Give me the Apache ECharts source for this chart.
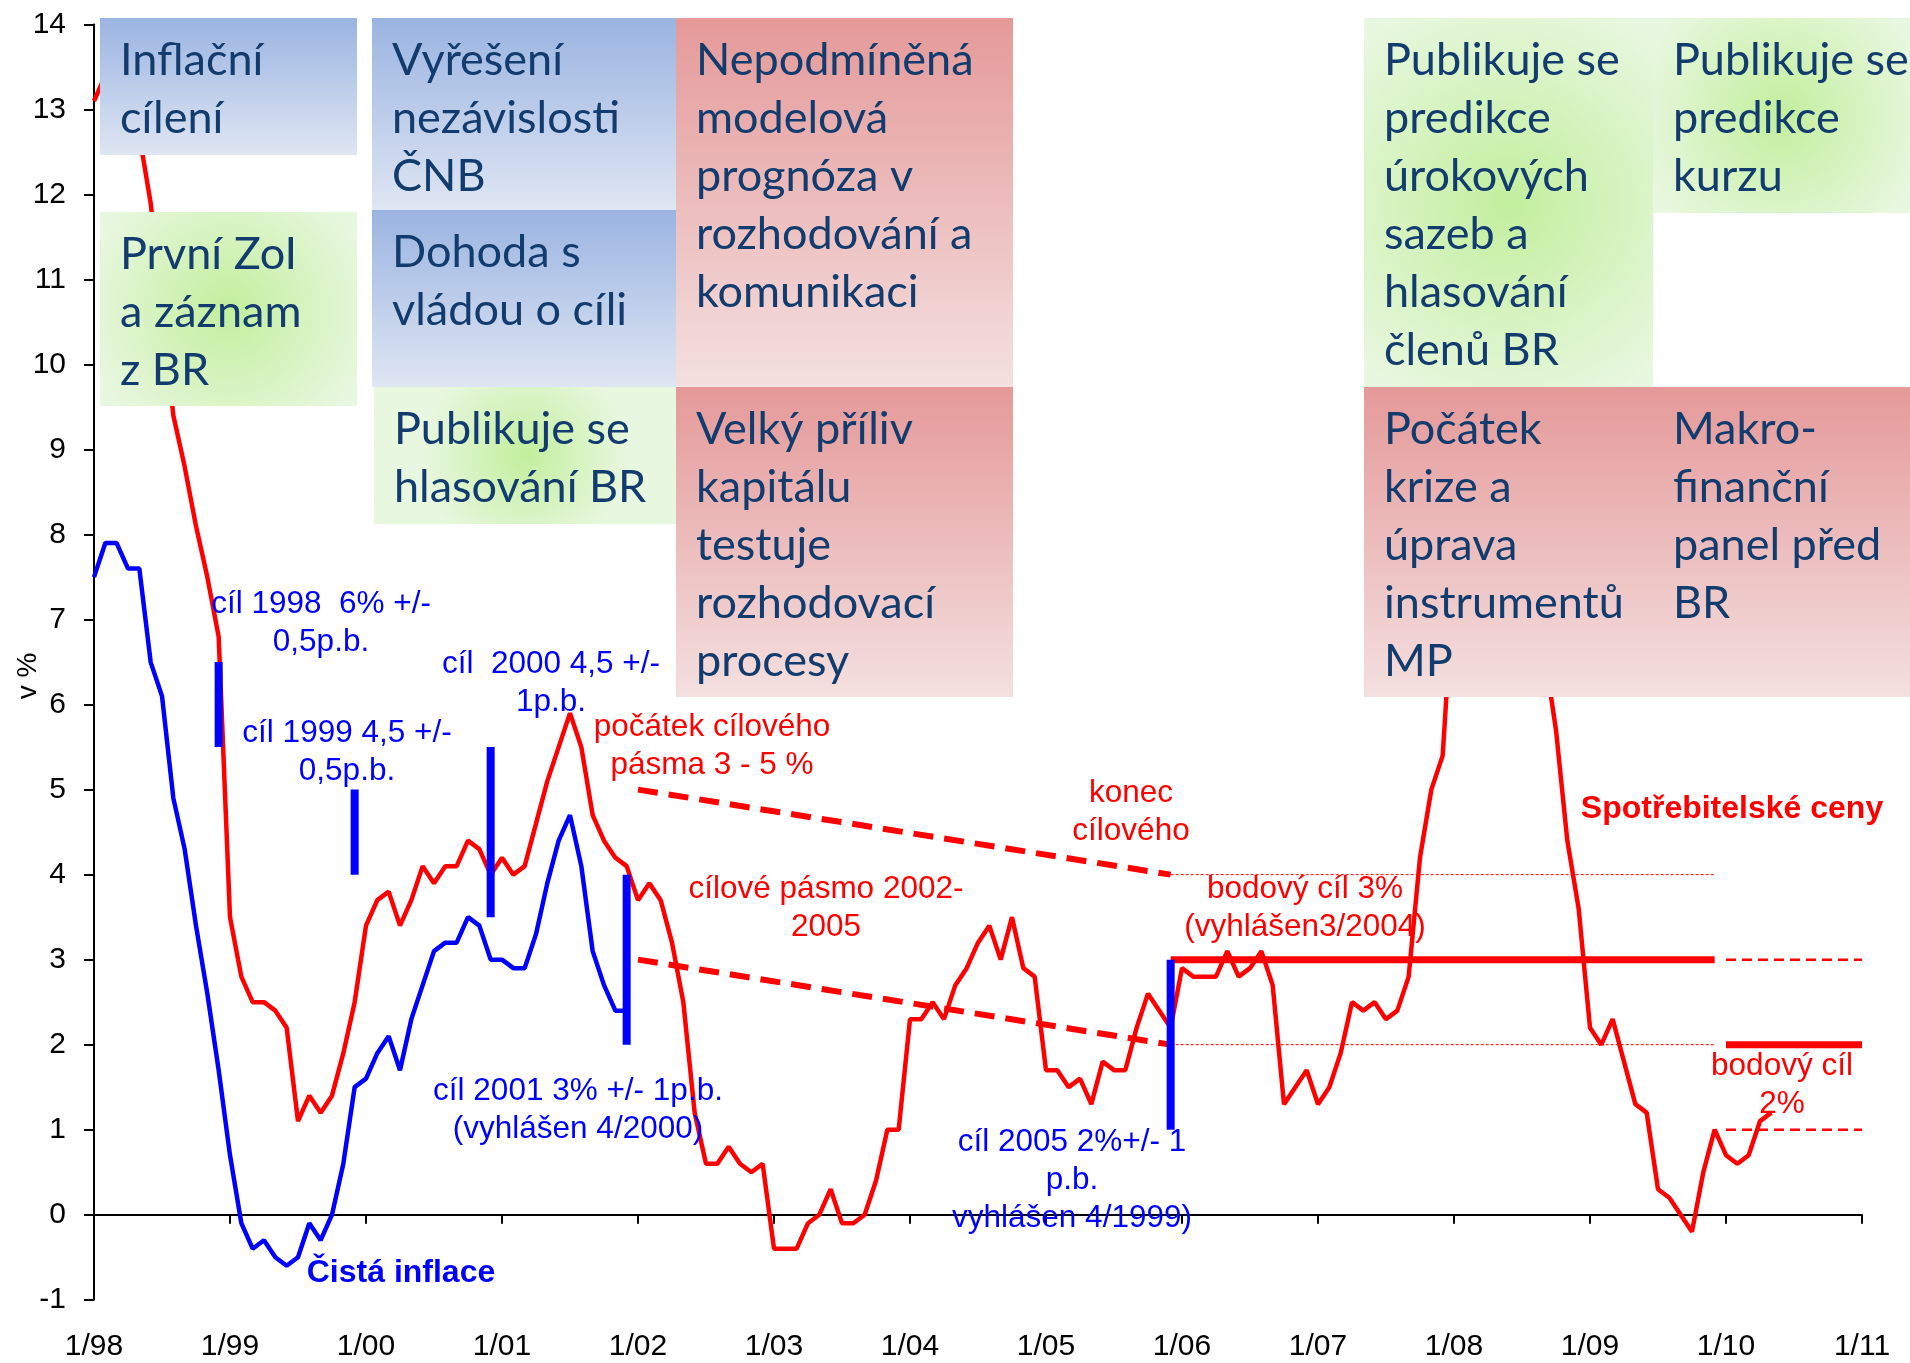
<!DOCTYPE html>
<html>
<head>
<meta charset="utf-8">
<title>Inflace a cíle ČNB</title>
<script src="https://cdn.jsdelivr.net/npm/echarts@6/dist/echarts.min.js"></script>
<style>
  html, body { margin: 0; padding: 0; background: #fff; }
  #chart { width: 1910px; height: 1363px; }
</style>
</head>
<body>
<div id="chart"></div>
<script>
// osa x: měsíce od 1/1998 (0 = leden 1998)
const xTickLabels = ['1/98', '1/99', '1/00', '1/01', '1/02', '1/03', '1/04', '1/05', '1/06', '1/07', '1/08', '1/09', '1/10', '1/11'];

// spotřebitelské ceny, meziročně v %
const cpi = [
  13.1, 13.4, 13.4, 13.1, 12.7, 11.9, 10.7, 9.4, 8.8, 8.1, 7.5, 6.8,
  3.5, 2.8, 2.5, 2.5, 2.4, 2.2, 1.1, 1.4, 1.2, 1.4, 1.9, 2.5,
  3.4, 3.7, 3.8, 3.4, 3.7, 4.1, 3.9, 4.1, 4.1, 4.4, 4.3, 4.0,
  4.2, 4.0, 4.1, 4.6, 5.1, 5.5, 5.9, 5.5, 4.7, 4.4, 4.2, 4.1,
  3.7, 3.9, 3.7, 3.2, 2.5, 1.2, 0.6, 0.6, 0.8, 0.6, 0.5, 0.6,
  -0.4, -0.4, -0.4, -0.1, 0.0, 0.3, -0.1, -0.1, 0.0, 0.4, 1.0, 1.0,
  2.3, 2.3, 2.5, 2.3, 2.7, 2.9, 3.2, 3.4, 3.0, 3.5, 2.9, 2.8,
  1.7, 1.7, 1.5, 1.6, 1.3, 1.8, 1.7, 1.7, 2.2, 2.6, 2.4, 2.2,
  2.9, 2.8, 2.8, 2.8, 3.1, 2.8, 2.9, 3.1, 2.7, 1.3, 1.5, 1.7,
  1.3, 1.5, 1.9, 2.5, 2.4, 2.5, 2.3, 2.4, 2.8, 4.2, 5.0, 5.4,
  7.5, 7.5, 7.1, 6.8, 6.8, 6.7, 6.8, 6.2, 6.6, 5.7, 4.4, 3.6,
  2.2, 2.0, 2.3, 1.8, 1.3, 1.2, 0.3, 0.2, 0.0, -0.2, 0.5, 1.0,
  0.7, 0.6, 0.7, 1.1, 1.2
];

// čistá inflace, meziročně v %
const netInflation = [
  7.5, 7.9, 7.9, 7.6, 7.6, 6.5, 6.1, 4.9, 4.3, 3.4, 2.6, 1.7,
  0.7, -0.1, -0.4, -0.3, -0.5, -0.6, -0.5, -0.1, -0.3, 0.0, 0.6, 1.5,
  1.6, 1.9, 2.1, 1.7, 2.3, 2.7, 3.1, 3.2, 3.2, 3.5, 3.4, 3.0,
  3.0, 2.9, 2.9, 3.3, 3.9, 4.4, 4.7, 4.1, 3.1, 2.7, 2.4, 2.4
];

// cíle: [měsíc, dolní mez, horní mez]
const targetBars = [[11, 5.5, 6.5], [23, 4, 5], [35, 3.5, 5.5], [47, 2, 4], [95, 1, 3]];

// cílové pásmo 2002-2005
const bandUpper = [[48, 5], [95, 4]];
const bandLower = [[48, 3], [95, 2]];

// bodové cíle a jejich tolerance
const pointTarget3 = [[95, 3], [143, 3]];
const tolerance3Upper = [[95, 4], [143, 4]];
const tolerance3Lower = [[95, 2], [143, 2]];
const pointTarget2 = [[144, 2], [156, 2]];
const tolerance2Upper = [[144, 3], [156, 3]];
const tolerance2Lower = [[144, 1], [156, 1]];

const RED = '#ff0000';
const BLUE = '#0000ff';
const BOX_TEXT = '#123c6e';
const ARIAL = '"Liberation Sans", Arial, sans-serif';
const BOX_FONT = 'Lato, "Noto Sans", sans-serif';

const blueFill = { type: 'linear', x: 0, y: 0, x2: 0, y2: 1,
  colorStops: [{ offset: 0, color: '#9ab4e1' }, { offset: 1, color: '#dfe6f3' }] };
const pinkFill = { type: 'linear', x: 0, y: 0, x2: 0, y2: 1,
  colorStops: [{ offset: 0, color: '#e59999' }, { offset: 1, color: '#f4e0e0' }] };
const greenFill = { type: 'radial', x: 0.5, y: 0.5, r: 0.75,
  colorStops: [{ offset: 0, color: '#c2ef9d' }, { offset: 1, color: '#e8f7df' }] };

// textové rámečky nad grafem
const boxes = [
  { x: 100, y: 18, w: 257, h: 137, fill: blueFill, text: 'Inflační\ncílení' },
  { x: 100, y: 212, w: 257, h: 194, fill: greenFill, text: 'První ZoI\na záznam\nz BR' },
  { x: 372, y: 18, w: 304, h: 192, fill: blueFill, text: 'Vyřešení\nnezávislosti\nČNB' },
  { x: 372, y: 210, w: 304, h: 177, fill: blueFill, text: 'Dohoda s\nvládou o cíli' },
  { x: 374, y: 387, w: 302, h: 137, fill: greenFill, text: 'Publikuje se\nhlasování BR' },
  { x: 676, y: 18, w: 337, h: 369, fill: pinkFill, text: 'Nepodmíněná\nmodelová\nprognóza v\nrozhodování a\nkomunikaci' },
  { x: 676, y: 387, w: 337, h: 310, fill: pinkFill, text: 'Velký příliv\nkapitálu\ntestuje\nrozhodovací\nprocesy' },
  { x: 1364, y: 18, w: 289, h: 369, fill: greenFill, text: 'Publikuje se\npredikce\núrokových\nsazeb a\nhlasování\nčlenů BR' },
  { x: 1653, y: 18, w: 257, h: 195, fill: greenFill, text: 'Publikuje se\npredikce\nkurzu' },
  { x: 1364, y: 387, w: 289, h: 310, fill: pinkFill, text: 'Počátek\nkrize a\núprava\ninstrumentů\nMP' },
  { x: 1653, y: 387, w: 257, h: 310, fill: pinkFill, text: 'Makro-\nfinanční\npanel před\nBR' }
];

// popisky v grafu (střed bloku)
const notes = [
  { x: 321, y: 623, color: BLUE, text: 'cíl 1998  6% +/-\n0,5p.b.' },
  { x: 347, y: 752, color: BLUE, text: 'cíl 1999 4,5 +/-\n0,5p.b.' },
  { x: 551, y: 683, color: BLUE, text: 'cíl  2000 4,5 +/-\n1p.b.' },
  { x: 712, y: 746, color: RED, text: 'počátek cílového\npásma 3 - 5 %' },
  { x: 1131, y: 812, color: RED, text: 'konec\ncílového' },
  { x: 826, y: 908, color: RED, text: 'cílové pásmo 2002-\n2005' },
  { x: 1305, y: 908, color: RED, text: 'bodový cíl 3%\n(vyhlášen3/2004)' },
  { x: 578, y: 1110, color: BLUE, text: 'cíl 2001 3% +/- 1p.b.\n(vyhlášen 4/2000)' },
  { x: 1072, y: 1180, color: BLUE, text: 'cíl 2005 2%+/- 1\np.b.\nvyhlášen 4/1999)' },
  { x: 1782, y: 1085, color: RED, text: 'bodový cíl\n2%' },
  { x: 1732, y: 809, color: RED, text: 'Spotřebitelské ceny', bold: true },
  { x: 401, y: 1273, color: BLUE, text: 'Čistá inflace', bold: true }
];

const graphics = [];
boxes.forEach(b => {
  graphics.push({
    type: 'rect', z: 20, silent: true,
    shape: { x: b.x, y: b.y, width: b.w, height: b.h },
    style: { fill: b.fill }
  });
  graphics.push({
    type: 'text', z: 21, silent: true, x: b.x + 20, y: b.y + 13,
    style: { text: b.text, fill: BOX_TEXT, fontSize: 45, fontFamily: BOX_FONT,
      lineHeight: 58, align: 'left', verticalAlign: 'top' }
  });
});
notes.forEach(n => {
  graphics.push({
    type: 'text', z: 22, silent: true, x: n.x, y: n.y,
    style: { text: n.text, fill: n.color, fontSize: n.bold ? 32 : 31.5, fontFamily: ARIAL,
      fontWeight: n.bold ? 'bold' : 'normal', lineHeight: 38,
      align: 'center', verticalAlign: 'middle' }
  });
});
graphics.push({
  type: 'text', z: 22, silent: true, x: 28, y: 676, rotation: Math.PI / 2,
  style: { text: 'v %', fill: '#000', fontSize: 28, fontFamily: ARIAL,
    align: 'center', verticalAlign: 'middle' }
});

function plainLine(data, color, width, type) {
  return {
    type: 'line', data: data, xAxisIndex: 0, showSymbol: false, symbol: 'none',
    silent: true, animation: false, z: 3,
    lineStyle: { color: color, width: width, type: type || 'solid', cap: 'butt' }
  };
}

const chart = echarts.init(document.getElementById('chart'));
chart.setOption({
  backgroundColor: '#fff',
  animation: false,
  grid: { left: 94, right: 48, top: 24.5, bottom: 63.3 },
  xAxis: [
    {
      type: 'value', min: 0, max: 156, interval: 12,
      axisLine: { onZero: true, lineStyle: { color: '#000', width: 2 } },
      axisTick: { show: true, length: 9, lineStyle: { color: '#000', width: 2 } },
      axisLabel: { show: false },
      splitLine: { show: false }
    },
    {
      type: 'value', min: 0, max: 156, interval: 12, position: 'bottom',
      axisLine: { show: false, onZero: false },
      axisTick: { show: false },
      axisLabel: {
        margin: 32, fontSize: 30, color: '#000', fontFamily: ARIAL,
        formatter: v => xTickLabels[Math.round(v / 12)]
      },
      splitLine: { show: false }
    }
  ],
  yAxis: {
    type: 'value', min: -1, max: 14, interval: 1,
    axisLine: { show: true, onZero: false, lineStyle: { color: '#000', width: 2 } },
    axisTick: { show: true, length: 10, lineStyle: { color: '#000', width: 2 } },
    axisLabel: { fontSize: 30, color: '#000', fontFamily: ARIAL, margin: 28 },
    splitLine: { show: false }
  },
  graphic: graphics,
  series: [
    plainLine(tolerance3Upper, RED, 1, [3, 2]),
    plainLine(tolerance3Lower, RED, 1, [3, 2]),
    plainLine(tolerance2Upper, RED, 2.5, [10, 6]),
    plainLine(tolerance2Lower, RED, 2.5, [10, 6]),
    plainLine(bandUpper, RED, 6, [20, 11]),
    plainLine(bandLower, RED, 6, [20, 11]),
    plainLine(pointTarget3, RED, 7),
    plainLine(pointTarget2, RED, 7),
    Object.assign(plainLine(cpi.map((v, i) => [i, v]), RED, 4.5), { z: 5 }),
    Object.assign(plainLine(netInflation.map((v, i) => [i, v]), BLUE, 4.5), { z: 5 }),
    {
      type: 'custom', data: targetBars, silent: true, z: 6,
      renderItem: (params, api) => {
        const lo = api.coord([api.value(0), api.value(1)]);
        const hi = api.coord([api.value(0), api.value(2)]);
        return {
          type: 'line',
          shape: { x1: lo[0], y1: lo[1], x2: hi[0], y2: hi[1] },
          style: { stroke: BLUE, lineWidth: 8, lineCap: 'butt' }
        };
      }
    }
  ]
});
</script>
</body>
</html>
